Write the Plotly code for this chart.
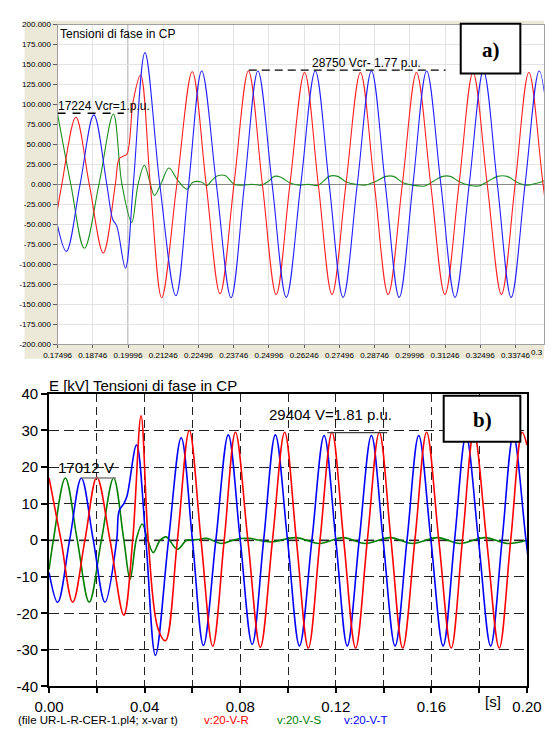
import plotly.graph_objects as go

# ---------------- (a) upper chart : time [s], phase voltage [kV] ----------------
top_t_R = [0.17496, 0.17647, 0.18144, 0.18621, 0.19118, 0.19545, 0.19679, 0.19813, 0.19958,
           0.20183, 0.20441, 0.20787, 0.21190, 0.21728, 0.22275, 0.22769, 0.23262, 0.23756,
           0.24270, 0.24764, 0.25254, 0.25741, 0.26261, 0.26748, 0.27235, 0.27729, 0.28243,
           0.28737, 0.29227, 0.29731, 0.30234, 0.30738, 0.31242, 0.31742, 0.32239, 0.32743,
           0.33247, 0.33734, 0.34221, 0.34725, 0.35228]
top_v_R = [-31, 0, 84, 0, -86, 0, 32, 35, 38,
           105, 137, 0, -142, 0, 141, 0, -137, 0,
           142, 0, -138, 0, 140, 0, -138, 0, 140,
           0, -138, 0, 140, 0, -138, 0, 140, 0,
           -138, 0, 140, 0, -138]

top_t_T = [0.17496, 0.17808, 0.18295, 0.18782, 0.19242, 0.19454, 0.19595, 0.19904, 0.20183,
           0.20596, 0.21123, 0.21694, 0.22147, 0.22611, 0.23131, 0.23652, 0.24129, 0.24606,
           0.25110, 0.25613, 0.26127, 0.26641, 0.27135, 0.27628, 0.28132, 0.28636, 0.29126,
           0.29620, 0.30107, 0.30594, 0.31098, 0.31601, 0.32105, 0.32609, 0.33103, 0.33593,
           0.34087, 0.34590, 0.35094]
top_v_T = [-52, -84, 0, 87, 0, -44, -52, -105, 0,
           165, 0, -139.5, 0, 142, 0, -142, 0, 142,
           0, -141.6, 0, 142, 0, -141.6, 0, 142, 0,
           -141.6, 0, 142, 0, -141.6, 0, 142, 0, -141.6,
           0, 142, 0]

top_t_S = [0.17496, 0.17966, 0.18446, 0.18964, 0.19477, 0.19780, 0.20126, 0.20351, 0.20576,
           0.20754, 0.20932, 0.21190, 0.21449, 0.21761, 0.22087, 0.22299, 0.22591, 0.22802,
           0.22970, 0.23205, 0.23440, 0.23766, 0.24045, 0.24381, 0.24717, 0.24985, 0.25187,
           0.25422, 0.25724, 0.26060, 0.26396, 0.26732, 0.26933, 0.27135, 0.27437, 0.27739,
           0.28075, 0.28411, 0.28747, 0.29150, 0.29418, 0.29754, 0.30090, 0.30527, 0.30829,
           0.31165, 0.31433, 0.31769, 0.32105, 0.32441, 0.32777, 0.33113, 0.33448, 0.33784,
           0.34120, 0.34456, 0.34725, 0.34993]
top_v_S = [88, 0, -80, 0, 88, 0, -47.7, 0, 24,
           5, -14, 3, 20.4, 5, -6, 2.5, 3, -1.6,
           5, 11, 11, 0, -1, 0, -1, 4, 10,
           9, 2, -1, 0, -1.5, 4, 10, 10, 3,
           0, -1, 3, 10, 10, 2, -1, -2, 4,
           10, 10, 3, -1, -2, 4, 10, 10, 3,
           -1, 1, 4, 9]

top_x_ticks = [0.17496, 0.18746, 0.19996, 0.21246, 0.22496, 0.23746, 0.24996, 0.26246,
               0.27496, 0.28746, 0.29996, 0.31246, 0.32496, 0.33746]
top_x_labels = ["0.17496", "0.18746", "0.19996", "0.21246", "0.22496", "0.23746", "0.24996",
                "0.26246", "0.27496", "0.28746", "0.29996", "0.31246", "0.32496", "0.33746"]
top_y_ticks = [-200, -175, -150, -125, -100, -75, -50, -25, 0, 25, 50, 75, 100, 125, 150, 175, 200]
top_y_labels = ["-200.000", "-175.000", "-150.000", "-125.000", "-100.000", "-75.000", "-50.000",
                "-25.000", "0.000", "25.000", "50.000", "75.000", "100.000", "125.000",
                "150.000", "175.000", "200.000"]
top_cursor_t = 0.19996
top_ref_1 = 89      # 17224 Vcr = 1 p.u. level
top_ref_2 = 143     # 28750 Vcr - 1.77 p.u. level

# ---------------- (b) lower chart : time [s], phase voltage [kV] ----------------
bot_t_R = [0.0, 0.005, 0.0099, 0.015, 0.020, 0.0255, 0.0313, 0.0350, 0.0385, 0.0415, 0.0455,
           0.0487, 0.0537, 0.0587, 0.0636, 0.0685, 0.0733, 0.078, 0.0832, 0.0884, 0.0935,
           0.0986, 0.1035, 0.1085, 0.1134, 0.1184, 0.1233, 0.1283, 0.1332, 0.1382, 0.1431,
           0.148, 0.1531, 0.158, 0.1631, 0.1683, 0.173, 0.1778, 0.1831, 0.1884, 0.1932,
           0.198, 0.2]
bot_v_R = [17, 0, -17, 0, 17.2, 0, -20.5, 0, 34, 0, -24,
           -27.5, 0, 30, 0, -29, 0, 29.5, 0, -29.3, 0,
           29.5, 0, -29.5, 0, 29.5, 0, -29.5, 0, 29.5, 0,
           -29.5, 0, 29.5, 0, -29.5, 0, 29.5, 0, -29.5, 0,
           29.5, 26]

bot_t_T = [0.0, 0.0036, 0.0086, 0.0135, 0.0185, 0.0234, 0.0283, 0.0293, 0.0313, 0.0326,
           0.0366, 0.0405, 0.0445, 0.050, 0.0553, 0.060, 0.0646, 0.0698, 0.075, 0.080,
           0.085, 0.0898, 0.0947, 0.0998, 0.1048, 0.110, 0.1151, 0.120, 0.1248, 0.1298,
           0.1349, 0.1398, 0.1448, 0.1498, 0.1547, 0.1598, 0.1649, 0.1697, 0.1745, 0.1797,
           0.1848, 0.1896, 0.1943, 0.1996, 0.2048]
bot_v_T = [-8.8, -17, 0, 17, 0, -17, 0, 8, 10, 12,
           26, 0, -31.5, 0, 28, 0, -28.8, 0, 28.8, 0,
           -28.5, 0, 28.8, 0, -28.9, 0, 28.6, 0, -28.9, 0,
           28.6, 0, -28.9, 0, 28.6, 0, -28.9, 0, 28.6, 0,
           -28.9, 0, 28.6, 0, -28.9]

bot_t_S = [0.0, 0.0018, 0.0068, 0.0118, 0.0168, 0.0219, 0.027, 0.0313, 0.0339, 0.0366,
           0.039, 0.0413, 0.0436, 0.0465, 0.049, 0.0537, 0.0575, 0.0597, 0.0625, 0.066,
           0.0722, 0.078, 0.0835, 0.0927, 0.1032, 0.1131, 0.123, 0.1323, 0.1428, 0.152,
           0.1626, 0.1719, 0.1824, 0.1917, 0.2]
bot_v_S = [-8, 0, 17, 0, -17, 0, 17, 0, -10.7, 0.5,
           4.4, 0, -3.4, 0, 0.9, -2.5, 0, 0, 0.2, 0.5,
           -0.9, 0.2, 0.5, -0.5, 0.7, -0.9, 0.7, -0.9, 0.7, -0.9,
           0.7, -0.9, 0.7, -0.9, 0]

bot_x_ticks = [0.0, 0.02, 0.04, 0.06, 0.08, 0.10, 0.12, 0.14, 0.16, 0.18, 0.20]
bot_x_labels = ["0.00", "", "0.04", "", "0.08", "", "0.12", "", "0.16", "", "0.20"]
bot_y_ticks = [-40, -30, -20, -10, 0, 10, 20, 30, 40]
bot_y_labels = ["-40", "-30", "-20", "-10", "0", "10", "20", "30", "40"]
bot_ref_1 = 17.012   # 17012 V
bot_ref_2 = 29.404   # 29404 V = 1.81 p.u.

# ---------------- figure ----------------
W, H = 559, 734
def px(x):
    return x / W
def py(y):
    return 1 - y / H

RED, GREEN, BLUE = "#ff0000", "#008000", "#0000ff"
TOP_RED, TOP_GREEN, TOP_BLUE = "#ff2020", "#1f8f1f", "#2020ff"

fig = go.Figure()
for t, v, c in [(top_t_S, top_v_S, TOP_GREEN), (top_t_R, top_v_R, TOP_RED), (top_t_T, top_v_T, TOP_BLUE)]:
    fig.add_trace(go.Scatter(x=t, y=v, mode="lines", xaxis="x", yaxis="y",
                             line=dict(color=c, width=1.1, shape="spline", smoothing=1)))
for t, v, c in [(bot_t_S, bot_v_S, GREEN), (bot_t_T, bot_v_T, BLUE), (bot_t_R, bot_v_R, RED)]:
    fig.add_trace(go.Scatter(x=t, y=v, mode="lines", xaxis="x2", yaxis="y2",
                             line=dict(color=c, width=1.6, shape="spline", smoothing=1)))

top_x_end = 0.17496 + 514 * 0.0125 / 37.22

small = dict(family="Liberation Sans, Arial, sans-serif", size=8, color="#000")
big = dict(family="Liberation Sans, Arial, sans-serif", size=15, color="#000")

fig.update_layout(
    width=W, height=H, autosize=False,
    margin=dict(l=0, r=0, t=0, b=0, pad=0),
    paper_bgcolor="#ffffff", plot_bgcolor="#ffffff",
    showlegend=False, hovermode=False,
    xaxis=dict(domain=[px(45), 1.0], range=[0.17496, top_x_end], anchor="y",
               tickmode="array", tickvals=top_x_ticks, ticktext=top_x_labels,
               tickfont=small, ticks="outside", ticklen=3, tickcolor="#606060",
               showgrid=True, gridcolor="#e3e3e3", gridwidth=1,
               showline=True, linecolor="#a0a0a0", linewidth=1, mirror=True,
               zeroline=False),
    yaxis=dict(domain=[py(343), py(16)], range=[-200, 200], anchor="x",
               tickmode="array", tickvals=top_y_ticks, ticktext=top_y_labels,
               tickfont=small, ticks="outside", ticklen=4, tickcolor="#606060",
               showgrid=True, gridcolor="#e3e3e3", gridwidth=1,
               showline=True, linecolor="#a0a0a0", linewidth=1, mirror=True,
               zeroline=True, zerolinecolor="#8a8a8a", zerolinewidth=1),
    xaxis2=dict(domain=[px(36), px(541)], range=[0, 0.2], anchor="y2",
                tickmode="array", tickvals=bot_x_ticks, ticktext=bot_x_labels,
                tickfont=big, ticks="outside", ticklen=5, tickcolor="#000", tickwidth=1.5,
                ticklabelstandoff=1,
                showgrid=True, gridcolor="#222", gridwidth=1, griddash="8px,5px",
                showline=True, linecolor="#000", linewidth=1.8, mirror=True,
                zeroline=False),
    yaxis2=dict(domain=[py(693.5), py(394)], range=[-40, 40], anchor="x2",
                tickmode="array", tickvals=bot_y_ticks, ticktext=bot_y_labels,
                tickfont=big, ticks="outside", ticklen=6, tickcolor="#000", tickwidth=1.5,
                showgrid=True, gridcolor="#222", gridwidth=1, griddash="10px,5px",
                showline=True, linecolor="#000", linewidth=1.8, mirror=True,
                zeroline=False),
)

shapes = [
    # beige window panel + white plotting area of the upper chart
    dict(type="rect", xref="paper", yref="paper", x0=px(10), x1=1.0, y0=py(358), y1=py(12),
         fillcolor="#ECE9D8", line=dict(width=0), layer="below"),
    dict(type="rect", xref="paper", yref="paper", x0=px(45), x1=1.0, y0=py(343), y1=py(16),
         fillcolor="#ffffff", line=dict(width=0), layer="below"),
    # cursor line
    dict(type="line", xref="x", yref="y domain", x0=top_cursor_t, x1=top_cursor_t, y0=0, y1=1,
         line=dict(color="#8a8a8a", width=1), layer="below"),
    # reference dashed levels of upper chart
    dict(type="line", xref="x", yref="y", x0=0.17496, x1=0.19847, y0=top_ref_1, y1=top_ref_1,
         line=dict(color="#000", width=1.3, dash="8px,7px")),
    dict(type="line", xref="x", yref="y", x0=0.24280, x1=0.31265, y0=top_ref_2, y1=top_ref_2,
         line=dict(color="#000", width=1.3, dash="8px,5px")),
    # bottom zero line (gray dashed)
    dict(type="line", xref="x2 domain", yref="y2", x0=0, x1=1, y0=0, y1=0,
         line=dict(color="#7a7a7a", width=2, dash="10px,5px"), layer="below"),
    # solid reference segments of lower chart
    dict(type="line", xref="x2", yref="y2", x0=0.0135, x1=0.0280, y0=bot_ref_1, y1=bot_ref_1,
         line=dict(color="#808080", width=1.5)),
    dict(type="line", xref="x2", yref="y2", x0=0.1164, x1=0.1415, y0=bot_ref_2, y1=bot_ref_2,
         line=dict(color="#404040", width=1.3)),
    # label boxes
    dict(type="rect", xref="paper", yref="paper", x0=px(471), x1=px(534), y0=py(66), y1=py(15),
         fillcolor="#ffffff", line=dict(color="#000", width=2)),
    dict(type="rect", xref="paper", yref="paper", x0=px(453), x1=px(534), y0=py(443), y1=py(396),
         fillcolor="#ffffff", line=dict(color="#000", width=2)),
]
fig.update_layout(shapes=shapes)

ann_font12 = dict(family="Liberation Sans, Arial, sans-serif", size=12, color="#000")
legend_font = dict(family="Liberation Sans, Arial, sans-serif", size=11.5, color="#000")
serif_b = dict(family="Liberation Serif, Times New Roman, serif", size=21, color="#000")

def ann(text, x, y, font, xanchor="left", color=None):
    f = dict(font)
    if color:
        f["color"] = color
    return dict(text=text, x=px(x), y=py(y), xref="paper", yref="paper", showarrow=False,
                xanchor=xanchor, yanchor="middle", font=f, borderpad=0)

annotations = [
    ann("Tensioni di fase in CP", 47, 26, ann_font12),
    ann("17224 Vcr=1.p.u.", 44, 99, ann_font12),
    ann("28750 Vcr- 1.77 p.u.", 313, 55, ann_font12),
    ann("0.3", 559, 352, small, xanchor="right"),
    ann("<b>a)</b>", 502.5, 42, serif_b, xanchor="center"),
    ann("<b>b)</b>", 493.5, 421, serif_b, xanchor="center"),
    ann("E [kV] Tensioni di fase in CP", 35, 385, big),
    ann("17012 V", 44, 469, big),
    ann("29404 V=1.81 p.u.", 267, 415, big),
    ann("[s]", 496, 709, big),
    ann("(file UR-L-R-CER-1.pl4; x-var t)", 2, 727.5, legend_font),
    ann("v:20-V-R", 199, 727.5, legend_font, color=RED),
    ann("v:20-V-S", 276, 727.5, legend_font, color=GREEN),
    ann("v:20-V-T", 347, 727.5, legend_font, color=BLUE),
]
fig.update_layout(annotations=annotations)

fig.write_html("out.html")
